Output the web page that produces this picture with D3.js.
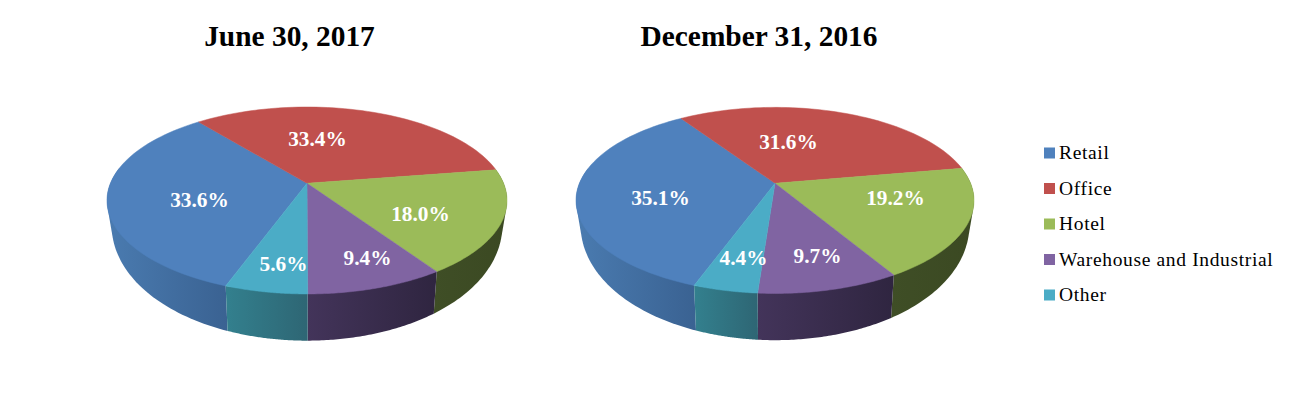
<!DOCTYPE html>
<html>
<head>
<meta charset="utf-8">
<script src="https://cdn.jsdelivr.net/npm/d3@7"></script>
<style>
  html, body { margin: 0; padding: 0; background: #fff; }
  svg { display: block; }
  text { font-family: "Liberation Serif", serif; }
  .title { font-size: 29.4px; font-weight: bold; text-anchor: middle; fill: #000; }
  .pct { font-size: 21.3px; font-weight: bold; text-anchor: middle; fill: #fff; }
  .legend-label { font-size: 19.5px; fill: #000; letter-spacing: 0.65px; }
</style>
</head>
<body>
<svg width="1294" height="396"></svg>
<script>
var categories = ['Retail', 'Office', 'Hotel', 'Warehouse and Industrial', 'Other'];
var june2017 = [33.6, 33.4, 18.0, 9.4, 5.6];
var dec2016 = [35.1, 31.6, 19.2, 9.7, 4.4];
var titles = ['June 30, 2017', 'December 31, 2016'];

var topColors = ['#4f81bd', '#c0504d', '#9bbb59', '#8064a2', '#4bacc6'];
// side walls run light to dark from left to right
var sideLeft = ['#4a7bb0', '#8c3a38', '#3f4e26', '#43345a', '#33808e'];
var sideRight = ['#3a6292', '#8c3a38', '#3b4922', '#2f2540', '#2e6674'];

var svg = d3.select('svg');

// the tilted disc: a bit of perspective, so the centre sits above the middle of the ellipse
var persp = 0.184;
var pies = [
    { values: june2017, title: titles[0], cx: 307, cy: 183.3, s: 196.6, a: 90.3, titleX: 289.5, labels: [[199.5, 207], [317.5, 146], [420.5, 221], [367.5, 265], [283.5, 271]] },
    { values: dec2016, title: titles[1], cx: 775, cy: 183.3, s: 195.6, a: 89.9, titleX: 759, labels: [[660.5, 205], [788.5, 149], [895.5, 205], [817.5, 263], [743.5, 265]] }
];

var pieLayout = d3.pie().sort(null).startAngle(200 * Math.PI / 180).endAngle(560 * Math.PI / 180);

function rimTop(p, t) {
    var u = Math.sin(t), v = Math.cos(t), w = 1 + persp * v;
    return [p.cx + p.s * u / w, p.cy - p.a * v / w];
}

function rimBottom(p, t) {
    var v = Math.cos(t);
    var q = rimTop(p, t);
    return [p.cx + 0.977 * (q[0] - p.cx), q[1] + 19.2 - 27.5 * v];
}

var line = d3.line();

function arcSteps(a0, a1) {
    return d3.range(0, 61).map(function (i) { return a0 + (a1 - a0) * i / 60; });
}

var defs = svg.append('defs');
var wallFrom = 80 * Math.PI / 180, wallTo = 280 * Math.PI / 180, turn = 2 * Math.PI;

pies.forEach(function (p, pi) {
    var g = svg.append('g');
    var arcs = pieLayout(p.values);

    // side walls first, the top face covers whatever is left over
    arcs.forEach(function (d, i) {
        // slices past a full turn are back on the right hand side
        var shift = d.startAngle >= turn ? turn : 0;
        var lo = Math.max(d.startAngle - shift, wallFrom);
        var hi = Math.min(d.endAngle - shift, wallTo);
        if (hi <= lo) return;
        var steps = arcSteps(lo, hi);
        var pts = steps.map(function (t) { return rimTop(p, t); })
            .concat(steps.map(function (t) { return rimBottom(p, t); }));
        var id = 'side' + pi + '-' + i;
        var grad = defs.append('linearGradient').attr('id', id);
        grad.append('stop').attr('offset', '0%').attr('stop-color', sideLeft[i]);
        grad.append('stop').attr('offset', '100%').attr('stop-color', sideRight[i]);
        g.append('path')
            .attr('d', line(d3.polygonHull(pts)) + 'Z')
            .attr('fill', 'url(#' + id + ')');
    });

    arcs.forEach(function (d, i) {
        var pts = arcSteps(d.startAngle, d.endAngle).map(function (t) { return rimTop(p, t); });
        pts.unshift([p.cx, p.cy]);
        g.append('path')
            .attr('d', line(pts) + 'Z')
            .attr('fill', topColors[i])
            .attr('stroke', topColors[i])
            .attr('stroke-width', 0.5);
    });

    g.selectAll('.pct').data(arcs).enter()
        .append('text')
        .attr('class', 'pct')
        .attr('x', function (d, i) { return p.labels[i][0]; })
        .attr('y', function (d, i) { return p.labels[i][1]; })
        .text(function (d) { return d.data.toFixed(1) + '%'; });

    svg.append('text')
        .attr('class', 'title')
        .attr('x', p.titleX)
        .attr('y', 46)
        .text(p.title);
});

// legend
var legendY = d3.scalePoint().domain(categories).range([153, 295]);
var legend = svg.selectAll('.legend').data(categories).enter()
    .append('g')
    .attr('class', 'legend')
    .attr('transform', function (d) { return 'translate(1044,' + legendY(d) + ')'; });

legend.append('rect')
    .attr('y', -5.5)
    .attr('width', 11)
    .attr('height', 11)
    .attr('fill', function (d, i) { return topColors[i]; });

legend.append('text')
    .attr('class', 'legend-label')
    .attr('x', 15)
    .attr('y', 6)
    .text(function (d) { return d; });
</script>
</body>
</html>
